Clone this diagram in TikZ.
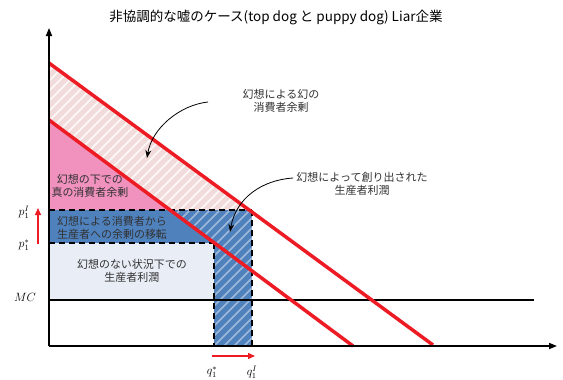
\documentclass[tikz,border=0pt]{standalone}
\usepackage{fontspec}
\newfontfamily\jp{Noto Sans CJK JP}
\usetikzlibrary{arrows.meta}
\definecolor{cpink}{RGB}{240,145,190}
\definecolor{clpink}{RGB}{242,220,219}
\definecolor{cblue}{RGB}{79,129,189}
\definecolor{clbox}{RGB}{233,238,246}
\definecolor{cred}{RGB}{237,28,36}
\definecolor{ctext}{RGB}{50,50,50}
\begin{document}
\begin{tikzpicture}[x=1pt,y=-1pt,
  lbl/.style={font=\jp\fontsize{11}{13.5}\selectfont,text=ctext,align=center,inner sep=0pt},
  axlbl/.style={font=\fontsize{11.5}{13}\selectfont,inner sep=0pt},
  axis/.style={line width=1.6pt,-{Triangle[length=8pt,width=6pt]}},
  dline/.style={line width=1.4pt,dash pattern=on 6pt off 4pt},
  demand/.style={cred,line width=3.5pt},
  redarr/.style={cred,line width=1.4pt,-{Triangle[length=7pt,width=6pt]}},
  callout/.style={line width=0.8pt,-{Stealth[length=8pt,width=6pt]}},
  hatch/.style={white,line width=1.6pt,opacity=0.45}]
\useasboundingbox (0,0) rectangle (563,380);
% fills
\fill[clpink] (49,63) -- (250,210) -- (171,210) -- (49,120) -- cycle;
\fill[cpink] (49,120) -- (171,210) -- (49,210) -- cycle;
\fill[cblue] (49,210) rectangle (252,243);
\fill[cblue] (214,243) rectangle (252,346);
\fill[clbox] (49,243) rectangle (214,300);
% hatching
\begin{scope}
\clip (49,63) -- (250,210) -- (171,210) -- (49,120) -- cycle;
\foreach \i in {-300,-290,...,300} \draw[hatch,opacity=0.85] (\i,400) -- ++(400,-400);
\end{scope}
\begin{scope}
\clip (171,210) -- (252,210) -- (252,346) -- (214,346) -- (214,243) -- (215,243) -- cycle;
\foreach \i in {-300,-290,...,400} \draw[hatch] (\i,400) -- ++(400,-400);
\end{scope}
% dashed borders
\draw[dline] (49,210) -- (252,210);
\draw[dline] (49,243) -- (214,243);
\draw[dline] (214,243) -- (214,346);
\draw[dline] (252,210) -- (252,346);
% MC line
\draw[line width=1.2pt] (49,300) -- (534,300);
% demand lines
\draw[demand] (49,63) -- (433,345);
\draw[demand] (49,120) -- (353,346);
% axes
\coordinate (o) at (49,346);
\coordinate (ytop) at (49,28);
\coordinate (xend) at (557,346);
\draw[axis] (o) -- (ytop);
\draw[axis] (o) -- (xend);
% title
\node[font=\jp\fontsize{13.5}{16}\selectfont,inner sep=0pt] (title) at (276,17) {非協調的な嘘のケース(top dog と puppy dog) Liar企業};
% region labels
\node[lbl] (t1) at (281,101) {幻想による幻の\\消費者余剰};
\node[lbl] (t2) at (362,184) {幻想によって創り出された\\生産者利潤};
\node[lbl] (t3) at (90,186) {幻想の下での\\真の消費者余剰};
\node[lbl] (t4) at (112,228) {幻想による消費者から\\生産者への余剰の移転};
\node[lbl] (t5) at (132,271) {幻想のない状況下での\\生産者利潤};
% callouts
\coordinate (c1s) at (208,102);
\coordinate (c1e) at (147,158);
\draw[callout] (c1s) .. controls (180,105) and (152,128) .. (c1e);
\coordinate (c2s) at (293,178);
\coordinate (c2e) at (230,232);
\draw[callout] (c2s) .. controls (262,180) and (236,198) .. (c2e);
% axis labels
\node[axlbl] (pI) at (24,212) {$p^{I}_{1}$};
\node[axlbl] (ps) at (24,245) {$p^{*}_{1}$};
\node[axlbl] (mc) at (25,297) {$MC$};
\node[axlbl] (qs) at (212,372) {$q^{*}_{1}$};
\node[axlbl] (qI) at (252,372) {$q^{I}_{1}$};
% red arrows
\coordinate (r1s) at (38,244);
\coordinate (r1e) at (38,208);
\draw[redarr] (r1s) -- (r1e);
\coordinate (r2s) at (212,356);
\coordinate (r2e) at (255,356);
\draw[redarr] (r2s) -- (r2e);
\end{tikzpicture}
\end{document}
